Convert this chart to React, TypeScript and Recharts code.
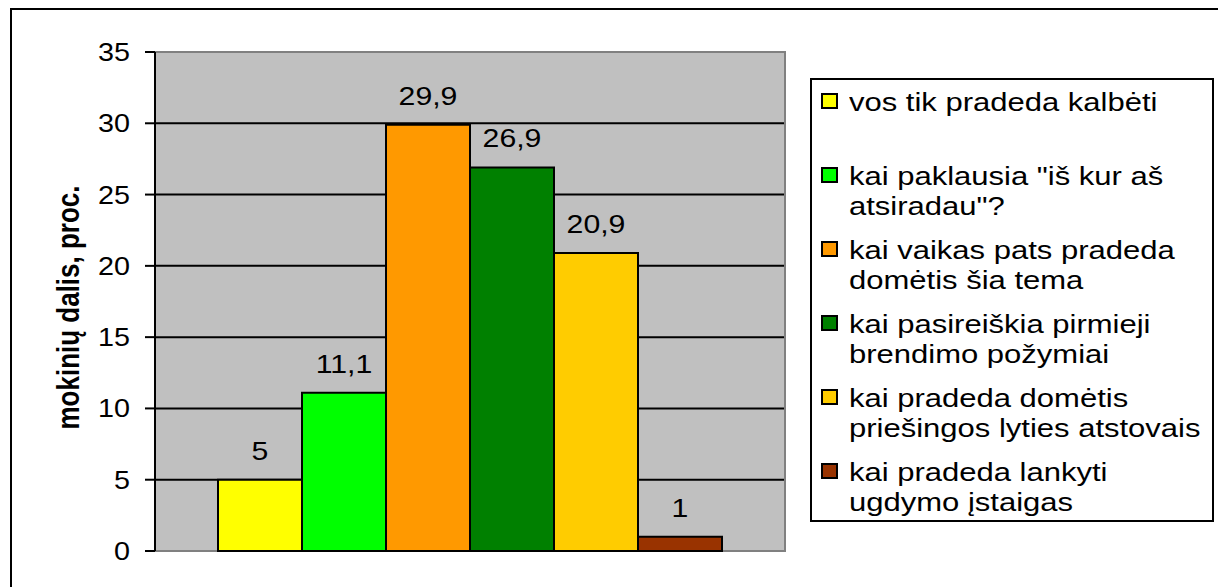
import React from 'react';
import { BarChart, Bar, XAxis, YAxis, CartesianGrid, Legend, LabelList, ReferenceArea } from 'recharts';

// one category, six answers (share of pupils, %)
const categories = [''];
const seriesNames = [
  'vos tik pradeda kalbėti',
  'kai paklausia "iš kur aš atsiradau"?',
  'kai vaikas pats pradeda domėtis šia tema',
  'kai pasireiškia pirmieji brendimo požymiai',
  'kai pradeda domėtis priešingos lyties atstovais',
  'kai pradeda lankyti ugdymo įstaigas',
];
const seriesValues = [5, 11.1, 29.9, 26.9, 20.9, 1];
const seriesColors = ['#FFFF00', '#00FF00', '#FF9900', '#008000', '#FFCC00', '#993300'];
const yTicks = [0, 5, 10, 15, 20, 25, 30, 35];

const FONT = '"Liberation Sans", Arial, sans-serif';

const data = categories.map((name) => {
  const row: any = { name };
  seriesValues.forEach((v, i) => {
    row[`s${i}`] = v;
  });
  return row;
});

const fmt = (v: number) => String(v).replace('.', ',');

const renderTick = (props: any) => {
  const { x, y, payload } = props;
  return (
    <text
      transform={`translate(${x},${y}) scale(1.15,1)`}
      textAnchor="end"
      dy="0.36em"
      fontSize={25}
      fontFamily={FONT}
      fill="#000"
    >
      {payload.value}
    </text>
  );
};

const renderValueLabel = (props: any) => {
  const { x, y, width, value } = props;
  const cx = Number(x) + Number(width) / 2;
  return (
    <text
      transform={`translate(${cx},${Number(y) - 20}) scale(1.21,1)`}
      textAnchor="middle"
      fontSize={25}
      fontFamily={FONT}
      fill="#000"
    >
      {fmt(value)}
    </text>
  );
};

const renderYLabel = (props: any) => {
  const { viewBox } = props;
  const cy = viewBox.y + viewBox.height / 2 + 6;
  return (
    <text
      transform={`translate(${viewBox.x + 67},${cy}) rotate(-90) scale(1,1.2)`}
      textAnchor="middle"
      fontSize={26}
      fontWeight="bold"
      fontFamily={FONT}
      fill="#000"
    >
      mokinių dalis, proc.
    </text>
  );
};

const renderLegend = () => (
  <div
    style={{
      width: 404,
      height: 444,
      border: '2px solid #000',
      boxSizing: 'border-box',
      background: '#fff',
      paddingTop: 7,
      fontFamily: FONT,
      fontSize: 25,
      color: '#000',
    }}
  >
    {seriesNames.map((name, i) => (
      <div key={name} style={{ position: 'relative', height: 74 }}>
        <span
          style={{
            position: 'absolute',
            left: 9,
            top: 6,
            width: 17,
            height: 16,
            boxSizing: 'border-box',
            border: '2px solid #000',
            background: seriesColors[i],
          }}
        />
        <div
          style={{
            position: 'absolute',
            left: 37,
            top: 0,
            width: 290,
            lineHeight: '30px',
            transform: 'scaleX(1.24)',
            transformOrigin: 'left top',
          }}
        >
          {name}
        </div>
      </div>
    ))}
  </div>
);

export default function App() {
  return (
    <div
      style={{
        position: 'relative',
        marginLeft: 2,
        width: 1213,
        height: 579,
        border: '2px solid #000',
        borderBottom: 'none',
        boxSizing: 'border-box',
        background: '#fff',
      }}
    >
      <BarChart
        width={1209}
        height={577}
        data={data}
        margin={{ top: 42, right: 436, bottom: 36, left: 0 }}
        barCategoryGap="10%"
        barGap={0}
      >
        <CartesianGrid vertical={false} stroke="#000" strokeWidth={2} fill="#C0C0C0" fillOpacity={1} />
        <XAxis dataKey="name" hide />
        <YAxis
          width={143}
          domain={[0, 35]}
          ticks={yTicks}
          interval={0}
          tickSize={10}
          tickMargin={15}
          axisLine={{ stroke: '#000', strokeWidth: 2 }}
          tickLine={{ stroke: '#000', strokeWidth: 2 }}
          tick={renderTick}
          label={renderYLabel}
        />
        <ReferenceArea y1={0} y2={35} fill="none" stroke="#808080" strokeWidth={2} />
        {seriesNames.map((name, i) => (
          <Bar
            key={name}
            dataKey={`s${i}`}
            name={name}
            fill={seriesColors[i]}
            stroke="#000"
            strokeWidth={2}
            isAnimationActive={false}
          >
            <LabelList dataKey={`s${i}`} position="top" content={renderValueLabel} />
          </Bar>
        ))}
        <Legend
          layout="horizontal"
          verticalAlign="middle"
          align="center"
          content={renderLegend}
          wrapperStyle={{ left: 798, top: 68, width: 404, height: 444 }}
        />
      </BarChart>
    </div>
  );
}
